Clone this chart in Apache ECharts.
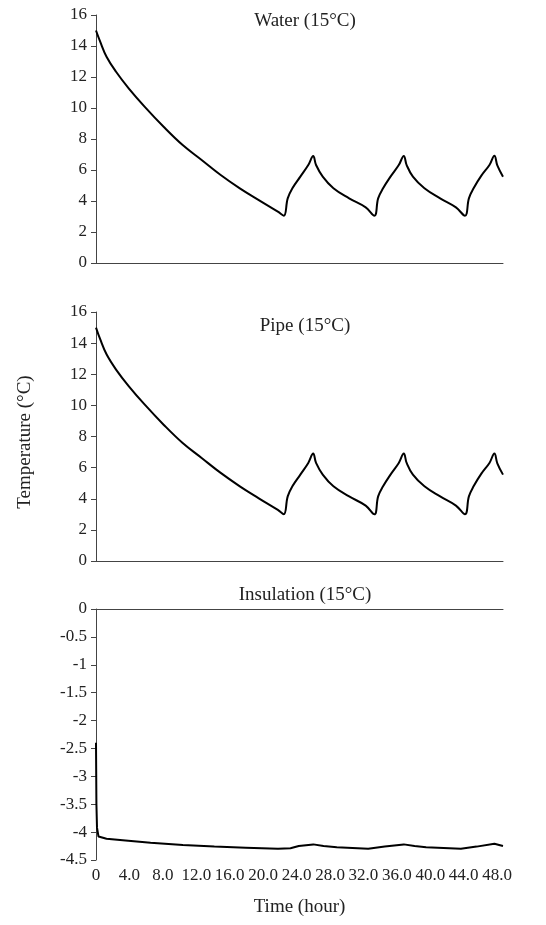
<!DOCTYPE html>
<html>
<head>
<meta charset="utf-8">
<script src="https://cdn.jsdelivr.net/npm/echarts@6/dist/echarts.min.js"></script>
<style>
  html, body { margin: 0; padding: 0; background: #fff; }
  #chart { width: 546px; height: 925px; }
</style>
</head>
<body>
<div id="chart"></div>
<script>
// hours + values
const waterHours = [0, 0.5, 1.26, 2.4, 3.91, 5.81, 8.09, 10.37, 12.64, 14.92, 17.21, 19.48, 21.76, 22.47,
  22.94, 23.5, 24.45, 25.4, 25.99, 26.33, 27.13, 28.41, 30.29, 32.27, 33.31,
  33.76, 34.35, 35.24, 36.23, 36.83, 37.17, 37.92, 39.3, 41.18, 43.07, 44.15,
  44.62, 45.18, 46.13, 47.08, 47.67, 48.02, 48.7];
const water = [15.0, 14.28, 13.31, 12.34, 11.27, 10.09, 8.79, 7.61, 6.65, 5.68, 4.82, 4.06, 3.31, 3.05,
  4.17, 4.82, 5.57, 6.32, 6.9, 6.32, 5.57, 4.82, 4.17, 3.59, 3.05,
  4.17, 4.82, 5.57, 6.32, 6.9, 6.32, 5.57, 4.82, 4.17, 3.59, 3.05,
  4.17, 4.82, 5.65, 6.32, 6.92, 6.3, 5.57];

const pipeHours = [0, 0.5, 1.26, 2.4, 3.91, 5.81, 8.09, 10.37, 12.64, 14.92, 17.21, 19.48, 21.76, 22.47,
  22.94, 23.5, 24.45, 25.4, 25.99, 26.33, 27.13, 28.41, 30.29, 32.27, 33.31,
  33.76, 34.35, 35.24, 36.23, 36.83, 37.17, 37.92, 39.3, 41.18, 43.07, 44.15,
  44.62, 45.18, 46.13, 47.08, 47.67, 48.02, 48.7];
const pipe = [15.0, 14.25, 13.28, 12.3, 11.24, 10.06, 8.76, 7.58, 6.62, 5.66, 4.8, 4.03, 3.28, 3.0,
  4.15, 4.8, 5.55, 6.3, 6.9, 6.3, 5.55, 4.8, 4.15, 3.56, 3.0,
  4.15, 4.8, 5.55, 6.3, 6.9, 6.3, 5.55, 4.8, 4.15, 3.56, 3.0,
  4.15, 4.8, 5.63, 6.3, 6.9, 6.28, 5.55];

const insulationHours = [0, 0.05, 0.12, 0.3, 1.26, 3.53, 6.53, 10.4, 14.16, 17.92, 21.78, 23.27, 24.26,
  26.0, 27.23, 28.81, 32.57, 34.55, 36.83, 38.12, 39.5, 43.66, 45.54, 47.67, 48.7];
const insulation = [-2.4, -3.5, -3.92, -4.08, -4.12, -4.15, -4.19, -4.23, -4.26, -4.28, -4.3, -4.29, -4.25,
  -4.22, -4.25, -4.27, -4.3, -4.26, -4.22, -4.25, -4.27, -4.3, -4.26, -4.21, -4.25];

const panelTitles = ['Water (15\u00B0C)', 'Pipe (15\u00B0C)', 'Insulation (15\u00B0C)'];
const xTicks = [0, 4, 8, 12, 16, 20, 24, 28, 32, 36, 40, 44, 48];
const X_MAX = 48.7;

const pairs = (xs, ys) => xs.map((x, i) => [x, ys[i]]);

const FONT = '"Liberation Serif", "DejaVu Serif", serif';
const TXT = '#222';
const AXIS = '#444';

const chart = echarts.init(document.getElementById('chart'), null, { renderer: 'canvas' });

const gridBase = { left: 96, width: 407, containLabel: false };

const yAxisBase = {
  type: 'value',
  axisLine: { show: true, lineStyle: { color: AXIS, width: 1 } },
  axisTick: { show: true, length: 5, lineStyle: { color: AXIS } },
  axisLabel: { color: TXT, fontFamily: FONT, fontSize: 17, margin: 9 },
  splitLine: { show: false },
};

const xHidden = (gi) => ({
  type: 'value', gridIndex: gi, min: 0, max: X_MAX,
  axisLine: { show: true, onZero: false, lineStyle: { color: AXIS, width: 1 } },
  axisTick: { show: false },
  axisLabel: { show: false },
  splitLine: { show: false },
});

const lineSeries = (idx, data) => ({
  type: 'line',
  xAxisIndex: idx, yAxisIndex: idx,
  data,
  showSymbol: false,
  smooth: 0.4,
  lineStyle: { color: '#000', width: 2 },
  animation: false,
});

chart.setOption({
  animation: false,
  title: [
    { text: panelTitles[0], left: 300, top: 7 },
    { text: panelTitles[1], left: 300, top: 312 },
    { text: panelTitles[2], left: 300, top: 581 },
  ].map(t => ({
    ...t,
    textAlign: 'center',
    textStyle: { color: TXT, fontFamily: FONT, fontSize: 19, fontWeight: 'normal' },
  })),
  grid: [
    { ...gridBase, top: 15, height: 248 },
    { ...gridBase, top: 312, height: 249 },
    { ...gridBase, top: 609, height: 251 },
  ],
  xAxis: [
    xHidden(0),
    xHidden(1),
    {
      type: 'value', gridIndex: 2, min: 0, max: X_MAX, interval: 4,
      axisLine: { show: false, onZero: false },
      axisTick: { show: false },
      axisLabel: {
        color: TXT, fontFamily: FONT, fontSize: 17, margin: 7,
        showMaxLabel: false,
        formatter: v => (xTicks.includes(v) ? (v === 0 ? '0' : v.toFixed(1)) : ''),
      },
      splitLine: { show: false },
      name: 'Time (hour)',
      nameLocation: 'middle',
      nameGap: 38,
      nameTextStyle: { color: TXT, fontFamily: FONT, fontSize: 19 },
    },
    {
      // zero line across the top of the insulation panel
      type: 'value', gridIndex: 2, position: 'top', min: 0, max: X_MAX,
      axisLine: { show: true, onZero: false, lineStyle: { color: AXIS, width: 1 } },
      axisTick: { show: false },
      axisLabel: { show: false },
      splitLine: { show: false },
    },
  ],
  yAxis: [
    { ...yAxisBase, gridIndex: 0, min: 0, max: 16, interval: 2 },
    { ...yAxisBase, gridIndex: 1, min: 0, max: 16, interval: 2 },
    { ...yAxisBase, gridIndex: 2, min: -4.5, max: 0, interval: 0.5 },
  ],
  graphic: [{
    type: 'text',
    x: 25, y: 442,
    rotation: Math.PI / 2,
    style: {
      text: 'Temperature (\u00B0C)',
      fill: TXT,
      font: '19px ' + FONT,
      align: 'center',
      verticalAlign: 'middle',
    },
  }],
  series: [
    lineSeries(0, pairs(waterHours, water)),
    lineSeries(1, pairs(pipeHours, pipe)),
    { ...lineSeries(2, pairs(insulationHours, insulation)), smooth: false },
  ],
});
</script>
</body>
</html>
